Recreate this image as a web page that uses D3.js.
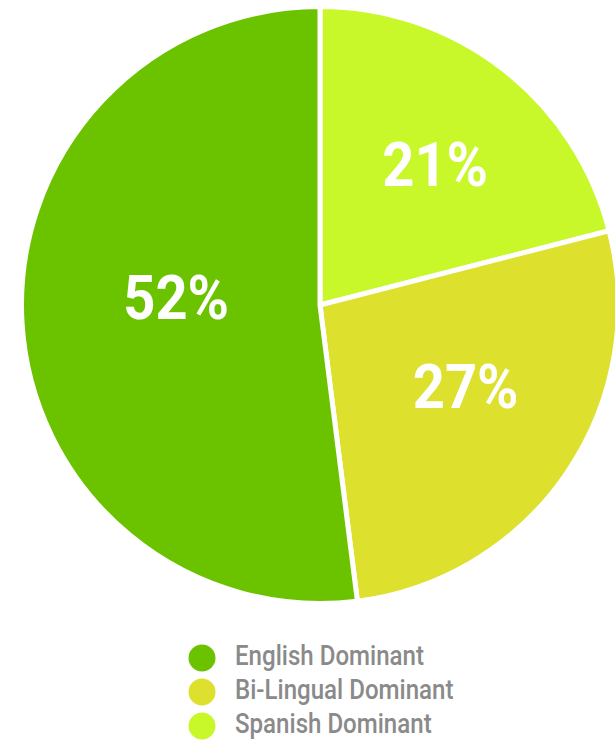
<!DOCTYPE html>
<html>
<head>
<meta charset="utf-8">
<script src="https://cdn.jsdelivr.net/npm/d3@7"></script>
<style>
  html, body { margin: 0; padding: 0; background: #ffffff; }
  svg { display: block; }
</style>
</head>
<body>
<svg id="chart" width="615" height="742"></svg>
<script>
// ---- data ----
const categories = ["Spanish Dominant", "Bi-Lingual Dominant", "English Dominant"];
const values = [21, 27, 52];
const colors = ["#c8f82a", "#dde02c", "#6bc300"];
const legendOrder = ["English Dominant", "Bi-Lingual Dominant", "Spanish Dominant"];

// ---- layout ----
const cx = 320, cy = 305, R = 298.5;
// label placement: [angle in degrees clockwise from top, radius]
const labelPolar = {
  "Spanish Dominant": [39.5, 181],
  "Bi-Lingual Dominant": [119.3, 167],
  "English Dominant": [272.8, 144]
};

const svg = d3.select("#chart");
const data = categories.map((c, i) => ({ cat: c, value: values[i] }));
const color = d3.scaleOrdinal().domain(categories).range(colors);

const pie = d3.pie().sort(null).value(d => d.value);
const arcs = pie(data);
const arc = d3.arc().innerRadius(0).outerRadius(R);

const g = svg.append("g").attr("transform", `translate(${cx},${cy})`);

g.selectAll("path.slice")
  .data(arcs)
  .join("path")
  .attr("class", "slice")
  .attr("d", arc)
  .attr("fill", d => color(d.data.cat))
  .attr("stroke", "#ffffff")
  .attr("stroke-width", 5)
  .attr("stroke-linejoin", "miter");

const total = d3.sum(values);
g.selectAll("text.pct")
  .data(arcs)
  .join("text")
  .attr("class", "pct")
  .attr("transform", d => {
    const [deg, r] = labelPolar[d.data.cat];
    const a = deg * Math.PI / 180;
    const x = Math.sin(a) * r, y = -Math.cos(a) * r;
    return `translate(${x},${y + 21}) scale(0.92,1)`;
  })
  .attr("text-anchor", "middle")
  .attr("font-family", "Roboto, 'Liberation Sans', sans-serif")
  .attr("font-weight", 700)
  .attr("font-size", 61)
  .attr("fill", "#ffffff")
  .text(d => Math.round(d.data.value / total * 100) + "%");

// ---- legend ----
const legend = svg.append("g").attr("transform", "translate(202,658)");
const rowH = 34;
const items = legend.selectAll("g.item")
  .data(legendOrder)
  .join("g")
  .attr("class", "item")
  .attr("transform", (d, i) => `translate(0,${i * rowH})`);

items.append("circle")
  .attr("r", 13.5)
  .attr("fill", d => color(d));

items.append("text")
  .attr("transform", "translate(33,7) scale(0.86,1)")
  .attr("font-family", "Roboto, 'Liberation Sans', sans-serif")
  .attr("font-weight", 500)
  .attr("font-size", 28)
  .attr("fill", "#8a8a8a")
  .text(d => d);
</script>
</body>
</html>
